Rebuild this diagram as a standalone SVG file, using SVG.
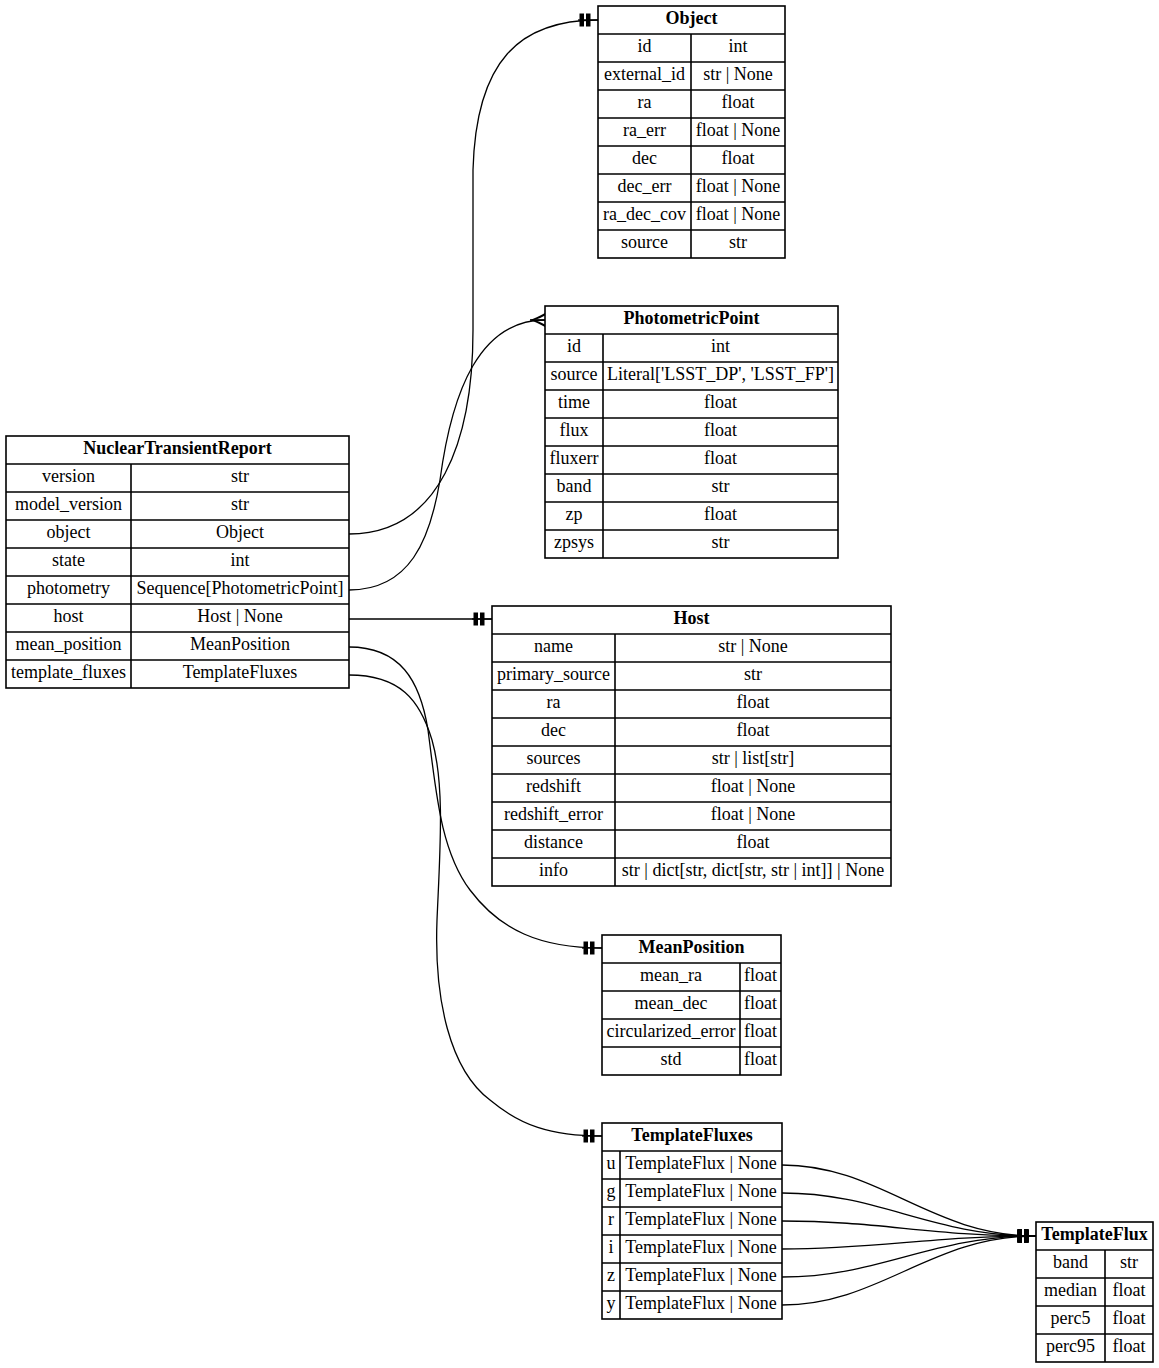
<svg xmlns="http://www.w3.org/2000/svg" width="1159" height="1368" viewBox="0 0 1159 1368">
<style>
.tbl{fill:none;stroke:#000;stroke-width:1.6}
.h{font-family:"Liberation Serif",serif;font-size:18px;font-weight:bold;text-anchor:middle;fill:#000}
.t{font-family:"Liberation Serif",serif;font-size:18px;text-anchor:middle;fill:#000}
.e{fill:none;stroke:#000;stroke-width:1.3}
</style>
<defs>
<marker id="tee" markerUnits="userSpaceOnUse" viewBox="0 0 20 16" markerWidth="20" markerHeight="16" refX="20" refY="8" orient="auto"><path d="M0,8H20" stroke="#000" stroke-width="1.3"/><rect x="1.5" y="1.5" width="4.5" height="13" fill="#000"/><rect x="8" y="1.5" width="4.5" height="13" fill="#000"/></marker>
<marker id="crow" markerUnits="userSpaceOnUse" viewBox="0 0 15 16" markerWidth="15" markerHeight="16" refX="15" refY="8" orient="auto"><path d="M15,1 Q6,6 0,8 Q6,10 15,15 L15,12.5 Q9,9 4.5,8 Q9,7 15,3.5 Z" fill="#000"/><path d="M0,8H15" stroke="#000" stroke-width="1.6"/></marker>
</defs>
<rect width="1159" height="1368" fill="#fff"/>
<g id="connectors">
<path class="e" d="M349,534 C440,534 473,440 473,330 L473,170 C476,60 520,20 598,20" marker-end="url(#tee)"/>
<path class="e" d="M349,590 C410,590 430,540 440,480 C452,390 480,320 545,320" marker-end="url(#crow)"/>
<path class="e" d="M349,619 L492,619" marker-end="url(#tee)"/>
<path class="e" d="M349,647 C400,647 420,680 428,730 C436,790 440,850 470,890 C500,930 540,948 602,948" marker-end="url(#tee)"/>
<path class="e" d="M349,675 C400,675 420,700 432,740 C445,785 440,850 437,920 C434,1000 450,1070 490,1100 C520,1125 550,1136 602,1136" marker-end="url(#tee)"/>
<path class="e" d="M782,1165 C880,1165 930,1236 1036,1236" marker-end="url(#tee)"/>
<path class="e" d="M782,1193 C880,1193 930,1236 1036,1236" marker-end="url(#tee)"/>
<path class="e" d="M782,1221 C880,1221 930,1236 1036,1236" marker-end="url(#tee)"/>
<path class="e" d="M782,1249 C880,1249 930,1236 1036,1236" marker-end="url(#tee)"/>
<path class="e" d="M782,1277 C880,1277 930,1236 1036,1236" marker-end="url(#tee)"/>
<path class="e" d="M782,1305 C880,1305 930,1236 1036,1236" marker-end="url(#tee)"/>
</g>
<g id="NuclearTransientReport">
<rect class="tbl" x="6" y="436" width="343" height="252" fill="#fff"/>
<path class="tbl" d="M6,464H349M6,492H349M6,520H349M6,548H349M6,576H349M6,604H349M6,632H349M6,660H349M131,464V688"/>
<text class="h" x="177.5" y="453.5">NuclearTransientReport</text>
<text class="t" x="68.5" y="481.5">version</text><text class="t" x="240" y="481.5">str</text>
<text class="t" x="68.5" y="509.5">model_version</text><text class="t" x="240" y="509.5">str</text>
<text class="t" x="68.5" y="537.5">object</text><text class="t" x="240" y="537.5">Object</text>
<text class="t" x="68.5" y="565.5">state</text><text class="t" x="240" y="565.5">int</text>
<text class="t" x="68.5" y="593.5">photometry</text><text class="t" x="240" y="593.5">Sequence[PhotometricPoint]</text>
<text class="t" x="68.5" y="621.5">host</text><text class="t" x="240" y="621.5">Host | None</text>
<text class="t" x="68.5" y="649.5">mean_position</text><text class="t" x="240" y="649.5">MeanPosition</text>
<text class="t" x="68.5" y="677.5">template_fluxes</text><text class="t" x="240" y="677.5">TemplateFluxes</text>
</g>
<g id="Object">
<rect class="tbl" x="598" y="6" width="187" height="252"/>
<path class="tbl" d="M598,34H785M598,62H785M598,90H785M598,118H785M598,146H785M598,174H785M598,202H785M598,230H785M691,34V258"/>
<text class="h" x="691.5" y="23.5">Object</text>
<text class="t" x="644.5" y="51.5">id</text><text class="t" x="738" y="51.5">int</text>
<text class="t" x="644.5" y="79.5">external_id</text><text class="t" x="738" y="79.5">str | None</text>
<text class="t" x="644.5" y="107.5">ra</text><text class="t" x="738" y="107.5">float</text>
<text class="t" x="644.5" y="135.5">ra_err</text><text class="t" x="738" y="135.5">float | None</text>
<text class="t" x="644.5" y="163.5">dec</text><text class="t" x="738" y="163.5">float</text>
<text class="t" x="644.5" y="191.5">dec_err</text><text class="t" x="738" y="191.5">float | None</text>
<text class="t" x="644.5" y="219.5">ra_dec_cov</text><text class="t" x="738" y="219.5">float | None</text>
<text class="t" x="644.5" y="247.5">source</text><text class="t" x="738" y="247.5">str</text>
</g>
<g id="PhotometricPoint">
<rect class="tbl" x="545" y="306" width="293" height="252"/>
<path class="tbl" d="M545,334H838M545,362H838M545,390H838M545,418H838M545,446H838M545,474H838M545,502H838M545,530H838M603,334V558"/>
<text class="h" x="691.5" y="323.5">PhotometricPoint</text>
<text class="t" x="574" y="351.5">id</text><text class="t" x="720.5" y="351.5">int</text>
<text class="t" x="574" y="379.5">source</text><text class="t" x="720.5" y="379.5">Literal['LSST_DP', 'LSST_FP']</text>
<text class="t" x="574" y="407.5">time</text><text class="t" x="720.5" y="407.5">float</text>
<text class="t" x="574" y="435.5">flux</text><text class="t" x="720.5" y="435.5">float</text>
<text class="t" x="574" y="463.5">fluxerr</text><text class="t" x="720.5" y="463.5">float</text>
<text class="t" x="574" y="491.5">band</text><text class="t" x="720.5" y="491.5">str</text>
<text class="t" x="574" y="519.5">zp</text><text class="t" x="720.5" y="519.5">float</text>
<text class="t" x="574" y="547.5">zpsys</text><text class="t" x="720.5" y="547.5">str</text>
</g>
<g id="Host">
<rect class="tbl" x="492" y="606" width="399" height="280"/>
<path class="tbl" d="M492,634H891M492,662H891M492,690H891M492,718H891M492,746H891M492,774H891M492,802H891M492,830H891M492,858H891M615,634V886"/>
<text class="h" x="691.5" y="623.5">Host</text>
<text class="t" x="553.5" y="651.5">name</text><text class="t" x="753" y="651.5">str | None</text>
<text class="t" x="553.5" y="679.5">primary_source</text><text class="t" x="753" y="679.5">str</text>
<text class="t" x="553.5" y="707.5">ra</text><text class="t" x="753" y="707.5">float</text>
<text class="t" x="553.5" y="735.5">dec</text><text class="t" x="753" y="735.5">float</text>
<text class="t" x="553.5" y="763.5">sources</text><text class="t" x="753" y="763.5">str | list[str]</text>
<text class="t" x="553.5" y="791.5">redshift</text><text class="t" x="753" y="791.5">float | None</text>
<text class="t" x="553.5" y="819.5">redshift_error</text><text class="t" x="753" y="819.5">float | None</text>
<text class="t" x="553.5" y="847.5">distance</text><text class="t" x="753" y="847.5">float</text>
<text class="t" x="553.5" y="875.5">info</text><text class="t" x="753" y="875.5">str | dict[str, dict[str, str | int]] | None</text>
</g>
<g id="MeanPosition">
<rect class="tbl" x="602" y="935" width="179" height="140"/>
<path class="tbl" d="M602,963H781M602,991H781M602,1019H781M602,1047H781M740,963V1075"/>
<text class="h" x="691.5" y="952.5">MeanPosition</text>
<text class="t" x="671" y="980.5">mean_ra</text><text class="t" x="760.5" y="980.5">float</text>
<text class="t" x="671" y="1008.5">mean_dec</text><text class="t" x="760.5" y="1008.5">float</text>
<text class="t" x="671" y="1036.5">circularized_error</text><text class="t" x="760.5" y="1036.5">float</text>
<text class="t" x="671" y="1064.5">std</text><text class="t" x="760.5" y="1064.5">float</text>
</g>
<g id="TemplateFluxes">
<rect class="tbl" x="602" y="1123" width="180" height="196"/>
<path class="tbl" d="M602,1151H782M602,1179H782M602,1207H782M602,1235H782M602,1263H782M602,1291H782M620,1151V1319"/>
<text class="h" x="692" y="1140.5">TemplateFluxes</text>
<text class="t" x="611" y="1168.5">u</text><text class="t" x="701" y="1168.5">TemplateFlux | None</text>
<text class="t" x="611" y="1196.5">g</text><text class="t" x="701" y="1196.5">TemplateFlux | None</text>
<text class="t" x="611" y="1224.5">r</text><text class="t" x="701" y="1224.5">TemplateFlux | None</text>
<text class="t" x="611" y="1252.5">i</text><text class="t" x="701" y="1252.5">TemplateFlux | None</text>
<text class="t" x="611" y="1280.5">z</text><text class="t" x="701" y="1280.5">TemplateFlux | None</text>
<text class="t" x="611" y="1308.5">y</text><text class="t" x="701" y="1308.5">TemplateFlux | None</text>
</g>
<g id="TemplateFlux">
<rect class="tbl" x="1036" y="1222" width="117" height="140"/>
<path class="tbl" d="M1036,1250H1153M1036,1278H1153M1036,1306H1153M1036,1334H1153M1105,1250V1362"/>
<text class="h" x="1094.5" y="1239.5">TemplateFlux</text>
<text class="t" x="1070.5" y="1267.5">band</text><text class="t" x="1129" y="1267.5">str</text>
<text class="t" x="1070.5" y="1295.5">median</text><text class="t" x="1129" y="1295.5">float</text>
<text class="t" x="1070.5" y="1323.5">perc5</text><text class="t" x="1129" y="1323.5">float</text>
<text class="t" x="1070.5" y="1351.5">perc95</text><text class="t" x="1129" y="1351.5">float</text>
</g>
</svg>
